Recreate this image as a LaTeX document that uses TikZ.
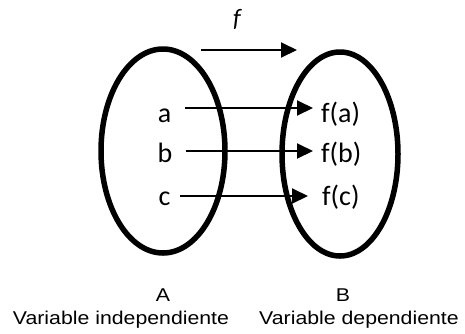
\documentclass[tikz,border=0pt]{standalone}
\usepackage{fontspec}
\setmainfont{Carlito}
\newfontfamily\arialfont{Liberation Sans}
\usetikzlibrary{arrows.meta,shapes.geometric}
\begin{document}
\begin{tikzpicture}[x=1pt,y=-1pt,
  setell/.style={draw, line width=5.5pt, ellipse, minimum width=124pt, minimum height=204pt, inner sep=0pt},
  elem/.style={font=\fontsize{28}{30}\selectfont, inner sep=0pt, anchor=base},
  maparrow/.style={line width=2pt, -{Triangle[length=16pt,width=15pt]}},
  caption/.style={font=\arialfont\fontsize{18.5}{20}\selectfont, inner sep=0pt, anchor=base, xscale=1.15}]
\useasboundingbox (0,0) rectangle (465,333);
\node[setell] (A) at (163,151) {};
\node[setell, minimum width=116pt] (B) at (340,154) {};
\node[elem, font=\fontsize{25}{27}\selectfont\itshape] (fl) at (237,26) {f};
\coordinate (fs) at (201,50);
\coordinate (fe) at (297,50);
\draw[maparrow] (fs) -- (fe);
\node[elem] (a) at (164.5,122) {a};
\node[elem] (b) at (165,162) {b};
\node[elem] (c) at (164.5,205) {c};
\node[elem, anchor=base west] (fa) at (321,122) {f(a)};
\node[elem, anchor=base west] (fb) at (321,162) {f(b)};
\node[elem, anchor=base west] (fc) at (322,205) {f(c)};
\coordinate (as) at (185,108);
\coordinate (ae) at (313,108);
\coordinate (bs) at (186,151);
\coordinate (be) at (313,151);
\coordinate (cs) at (180,196);
\coordinate (ce) at (308,196);
\draw[maparrow] (as) -- (ae);
\draw[maparrow] (bs) -- (be);
\draw[maparrow] (cs) -- (ce);
\node[caption] (A1) at (163,301) {A};
\node[caption] (la) at (121,324) {Variable independiente};
\node[caption] (B1) at (343,301) {B};
\node[caption] (lb) at (359,324) {Variable dependiente};
\end{tikzpicture}
\end{document}
